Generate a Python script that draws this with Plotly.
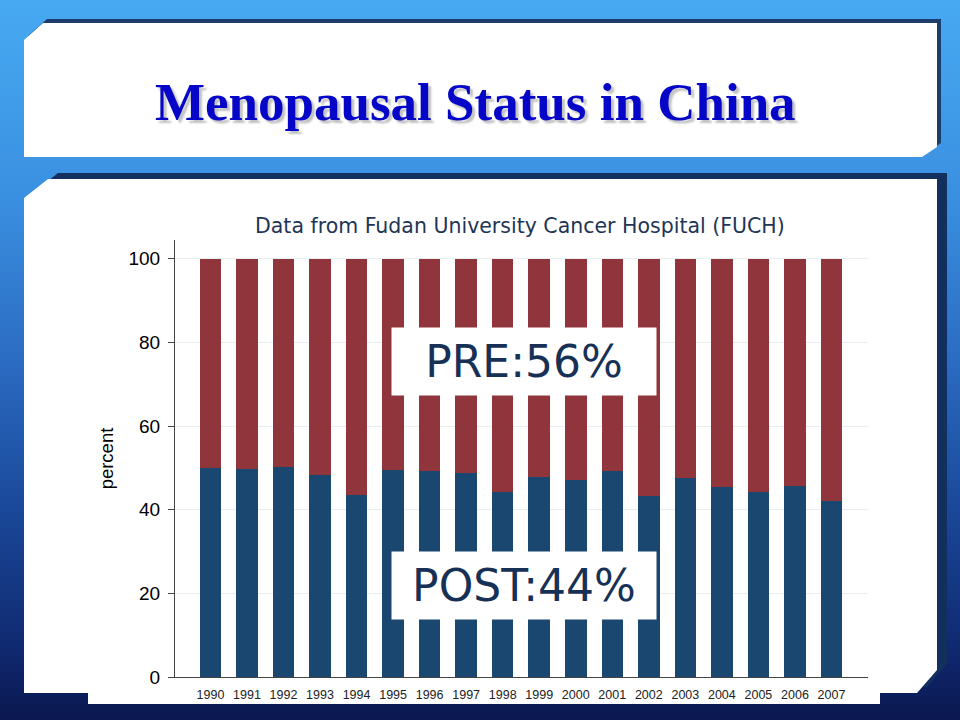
import plotly.graph_objects as go

# data (percent of patients per year, FUCH)
years = ["1990", "1991", "1992", "1993", "1994", "1995", "1996", "1997", "1998",
         "1999", "2000", "2001", "2002", "2003", "2004", "2005", "2006", "2007"]
post_pct = [50.0, 49.8, 50.2, 48.3, 43.5, 49.6, 49.3, 48.7, 44.2,
            47.8, 47.1, 49.2, 43.3, 47.6, 45.5, 44.2, 45.7, 42.0]
pre_pct = [50.0, 50.2, 49.8, 51.7, 56.5, 50.4, 50.7, 51.3, 55.8,
           52.2, 52.9, 50.8, 56.7, 52.4, 54.5, 55.8, 54.3, 58.0]
y_ticks = [0, 20, 40, 60, 80, 100]

slide_title = "Menopausal Status in China"
sub_title = "Data from Fudan University Cancer Hospital (FUCH)"
pre_label = "PRE:56%"
post_label = "POST:44%"

# stata s2color navy / maroon
NAVY = "#1a476f"
MAROON = "#90353b"

# plot area in pixels (page is 960x720)
W, H = 960, 720
L, R, T, B = 175, 92, 240, 43
PW = W - L - R
PH = H - T - B


def px(x):
    # pixel x -> paper x
    return (x - L) / PW


def py(y):
    # pixel y (from top) -> paper y
    return (H - B - y) / PH


def poly(points, fill):
    path = "M " + " L ".join(f"{px(a):.5f},{py(b):.5f}" for a, b in points) + " Z"
    return dict(type="path", xref="paper", yref="paper", path=path,
                fillcolor=fill, line=dict(width=0), layer="below")


def mix(c1, c2, t):
    a = [int(c1[i:i + 2], 16) for i in (1, 3, 5)]
    b = [int(c2[i:i + 2], 16) for i in (1, 3, 5)]
    return "#" + "".join(f"{round(a[k] + (b[k] - a[k]) * t):02x}" for k in range(3))


# background gradient of the slide (light blue top -> navy bottom)
stops = [(0, "#47aaf2"), (200, "#3a8fe0"), (360, "#2b6cc2"),
         (500, "#1b4a9c"), (650, "#10296f"), (720, "#0b174f")]
shapes = []
band = 8
for y0 in range(0, H, band):
    ym = y0 + band / 2
    for (s0, c0), (s1, c1) in zip(stops[:-1], stops[1:]):
        if s0 <= ym <= s1:
            col = mix(c0, c1, (ym - s0) / (s1 - s0))
            break
    shapes.append(dict(type="rect", xref="paper", yref="paper",
                       x0=px(0), x1=px(W), y0=py(y0 + band + 0.5), y1=py(y0),
                       fillcolor=col, line=dict(width=0), layer="below"))

# title box with dark bevel edge
title_pts = [(24, 40), (43, 23), (937, 23), (937, 147), (922, 157), (24, 157)]
shapes.append(poly([(a + 4, b - 4) for a, b in title_pts], "#1c3d6b"))
shapes.append(poly(title_pts, "white"))

# content panel
panel_pts = [(24, 198), (48, 179), (937, 179), (937, 670), (917, 693), (24, 693)]
shapes.append(poly([(a + 10, b - 6) for a, b in panel_pts], "#132f5e"))
shapes.append(poly(panel_pts, "white"))
# pasted chart picture (sticks out a bit at the bottom)
shapes.append(dict(type="rect", xref="paper", yref="paper",
                   x0=px(88), x1=px(880), y0=py(704), y1=py(200),
                   fillcolor="white", line=dict(width=0), layer="below"))

fig = go.Figure()
fig.add_trace(go.Bar(x=years, y=post_pct, name="post", marker=dict(color=NAVY, line=dict(width=0))))
fig.add_trace(go.Bar(x=years, y=pre_pct, name="pre", marker=dict(color=MAROON, line=dict(width=0))))

annotations = [
    dict(text=f"<b>{slide_title}</b>", x=px(475), y=py(102), xref="paper", yref="paper",
         showarrow=False, xanchor="center", yanchor="middle",
         font=dict(family="Liberation Serif", size=53, color="#0606c8",
                   shadow="3px 3px 2px rgba(80,80,80,0.35)")),
    dict(text=sub_title, x=px(520), y=py(226), xref="paper", yref="paper",
         showarrow=False, xanchor="center", yanchor="middle",
         font=dict(family="DejaVu Sans", size=20.5, color="#1f3556")),
    dict(text=pre_label, x=px(523.5), y=py(361), xref="paper", yref="paper",
         showarrow=False, xanchor="center", yanchor="middle",
         width=262, height=65, bgcolor="white", borderpad=1,
         font=dict(family="DejaVu Sans", size=44, color="#173056")),
    dict(text=post_label, x=px(523.5), y=py(585.5), xref="paper", yref="paper",
         showarrow=False, xanchor="center", yanchor="middle",
         width=262, height=65, bgcolor="white", borderpad=1,
         font=dict(family="DejaVu Sans", size=44, color="#173056")),
]

fig.update_layout(
    width=W, height=H,
    margin=dict(l=L, r=R, t=T, b=B, pad=0),
    paper_bgcolor="#2b6cc2",
    plot_bgcolor="white",
    barmode="stack",
    bargap=0.41,
    showlegend=False,
    hovermode=False,
    shapes=shapes,
    annotations=annotations,
    font=dict(family="Liberation Sans", color="black"),
)

fig.update_xaxes(
    type="category", range=[-0.97, 18.0],
    showgrid=False, zeroline=False,
    showline=True, linecolor="#444", linewidth=1,
    ticks="outside", ticklen=0, tickcolor="white",
    ticklabelstandoff=6,
    tickfont=dict(size=12.5, color="#222"),
)
fig.update_yaxes(
    range=[0, 104.5],
    tickvals=y_ticks,
    showgrid=True, gridcolor="#e9eef1", gridwidth=1,
    zeroline=False,
    showline=True, linecolor="#444", linewidth=1,
    ticks="outside", ticklen=6, tickcolor="#444",
    ticklabelstandoff=4,
    tickfont=dict(size=19, color="black"),
    title=dict(text="percent", font=dict(size=18.5, color="black"), standoff=10),
)

fig.write_html("out.html", config={"displayModeBar": False},
               post_script="document.body.style.margin='0';")
